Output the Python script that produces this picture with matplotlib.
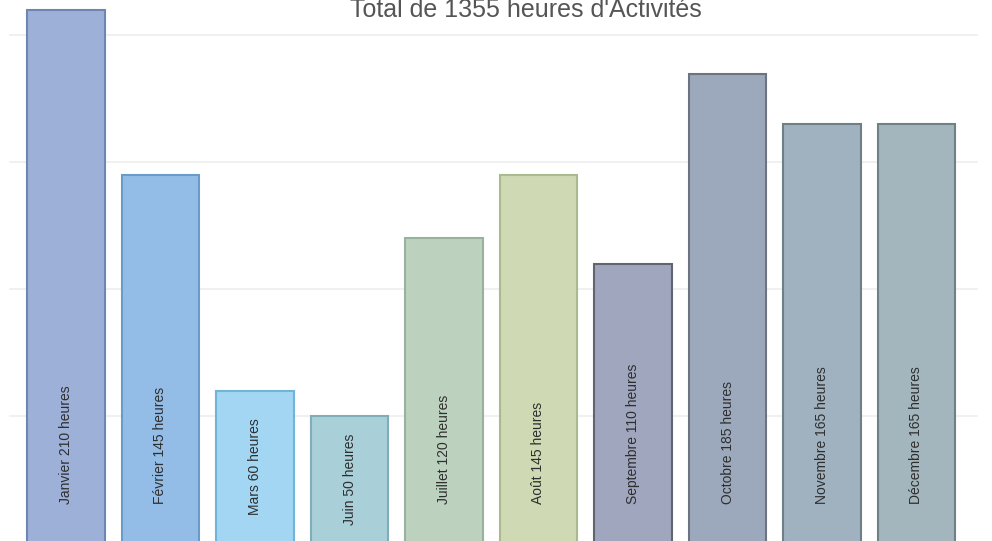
import matplotlib
matplotlib.use("Agg")
import matplotlib.pyplot as plt
import numpy as np

# données
mois = ["Janvier", "Février", "Mars", "Juin", "Juillet", "Août",
        "Septembre", "Octobre", "Novembre", "Décembre"]
heures = [210, 145, 60, 50, 120, 145, 110, 185, 165, 165]
couleurs = ["#9db0d8", "#93bde6", "#a3d6f2", "#a9cfd8", "#bcd2bf",
            "#cfdab5", "#9fa6bd", "#9ca9bd", "#a0b2c0", "#a4b6bd"]
bords = ["#6f86b3", "#6a9cc9", "#72b3d8", "#7fadb9", "#98b39c",
         "#aab98f", "#5f6670", "#6c7480", "#6f7f88", "#6f8086"]
grille = [50, 100, 150, 200]

plt.rcParams['font.family'] = ['Liberation Sans', 'DejaVu Sans']

fig = plt.figure(figsize=(9.92, 5.41), dpi=100)
# l'axe déborde un peu en bas, comme sur le scan
ax = fig.add_axes([0, -2 / 541, 1, 543 / 541])

x = np.arange(len(mois))
ax.set_xlim(-66 / 94.5, (992 - 66) / 94.5)
ax.set_ylim(0, 543 / 2.5375)

for g in grille:
    ax.axhline(g, xmin=0.01, xmax=0.985, color="#eeeeee", lw=1.2, zorder=0)

ax.bar(x, heures, width=0.815, color=couleurs, edgecolor=bords,
       linewidth=1.5, zorder=2)

for xi, m, h in zip(x, mois, heures):
    txt = f"{m} {h} heures"
    if h / 2 < 35:
        ax.text(xi, h / 2, txt, rotation=90, ha="center", va="center",
                fontsize=10, color="#2e2e2e", zorder=3)
    else:
        ax.text(xi, 15.5, txt, rotation=90, ha="center", va="bottom",
                fontsize=10, color="#2e2e2e", zorder=3)

ax.axis("off")

# le titre est rogné en haut sur l'original
fig.text(526 / 992, 1 - 17 / 541, "Total de 1355 heures d'Activités",
         ha="center", va="baseline", fontsize=18, color="#555555")

fig.savefig("out.png", dpi=100)
